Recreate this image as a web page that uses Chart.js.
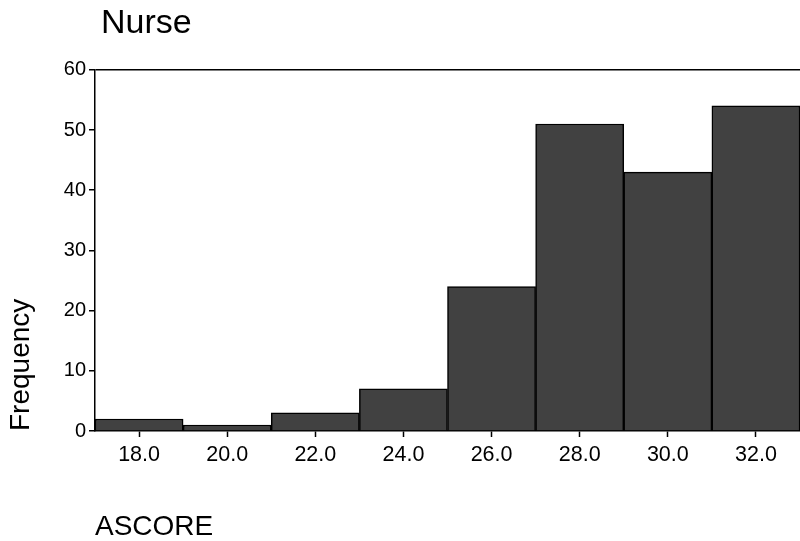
<!DOCTYPE html>
<html>
<head>
<meta charset="utf-8">
<title>Nurse</title>
<script src="https://cdn.jsdelivr.net/npm/chart.js@4/dist/chart.umd.min.js"></script>
<style>
  html, body { margin: 0; padding: 0; background: #fff; }
  #wrap { width: 800px; height: 541px; position: relative; }
</style>
</head>
<body>
<div id="wrap"><canvas id="hist"></canvas></div>
<script>
// ASCORE histogram for the Nurse group, bins of width 2
const binLabels = ['18.0', '20.0', '22.0', '24.0', '26.0', '28.0', '30.0', '32.0'];
const frequency = [2, 1, 3, 7, 24, 51, 43, 54];
const yTicks = [0, 10, 20, 30, 40, 50, 60];

const font = 'Liberation Sans, Arial, Helvetica, sans-serif';

// nudge the chart title a little to the right of the plot's left edge
const titleNudge = {
  id: 'titleNudge',
  afterLayout(chart) {
    if (chart.titleBlock) {
      chart.titleBlock.left += 6;
      chart.titleBlock.right += 6;
    }
  }
};

new Chart(document.getElementById('hist').getContext('2d'), {
  type: 'bar',
  data: {
    labels: binLabels,
    datasets: [{
      label: 'Frequency',
      data: frequency,
      backgroundColor: '#414141',
      borderColor: '#000',
      borderWidth: 1.5,
      borderSkipped: 'bottom',
      barPercentage: 1,
      categoryPercentage: 1
    }]
  },
  plugins: [titleNudge],
  options: {
    responsive: true,
    maintainAspectRatio: false,
    animation: false,
    layout: { padding: 0 },
    plugins: {
      legend: { display: false },
      tooltip: { enabled: false },
      title: {
        display: true,
        text: 'Nurse',
        align: 'start',
        fullSize: false,
        color: '#000',
        font: { family: font, size: 34, weight: 'normal' },
        padding: { top: 3, bottom: 26 }
      }
    },
    scales: {
      x: {
        offset: true,
        grid: {
          offset: false,
          drawOnChartArea: false,
          tickLength: 6,
          tickColor: '#000',
          tickWidth: 1.5
        },
        border: { color: '#000', width: 1.5 },
        ticks: {
          color: '#000',
          padding: 5,
          maxRotation: 0,
          font: { family: font, size: 21.5 }
        },
        title: {
          display: true,
          text: 'ASCORE',
          align: 'start',
          color: '#000',
          font: { family: font, size: 28 },
          padding: { top: 0, bottom: -3 }
        },
        afterFit: s => { s.height = 110; }
      },
      y: {
        min: 0,
        max: 60,
        afterBuildTicks: s => { s.ticks = yTicks.map(v => ({ value: v })); },
        grid: {
          // only the 60 line is drawn across the plot, closing the frame on top
          color: c => c.tick && c.tick.value === 60 ? '#000' : 'rgba(0,0,0,0)',
          lineWidth: 1.5,
          tickLength: 6,
          tickColor: '#000',
          tickWidth: 1.5
        },
        border: { color: '#000', width: 1.5 },
        ticks: {
          color: '#000',
          padding: 3,
          font: { family: font, size: 20 }
        },
        title: {
          display: true,
          text: 'Frequency',
          align: 'start',
          color: '#000',
          font: { family: font, size: 28 },
          padding: { top: 4, bottom: 0 }
        },
        afterFit: s => { s.width = 95; }
      }
    }
  }
});
</script>
</body>
</html>
